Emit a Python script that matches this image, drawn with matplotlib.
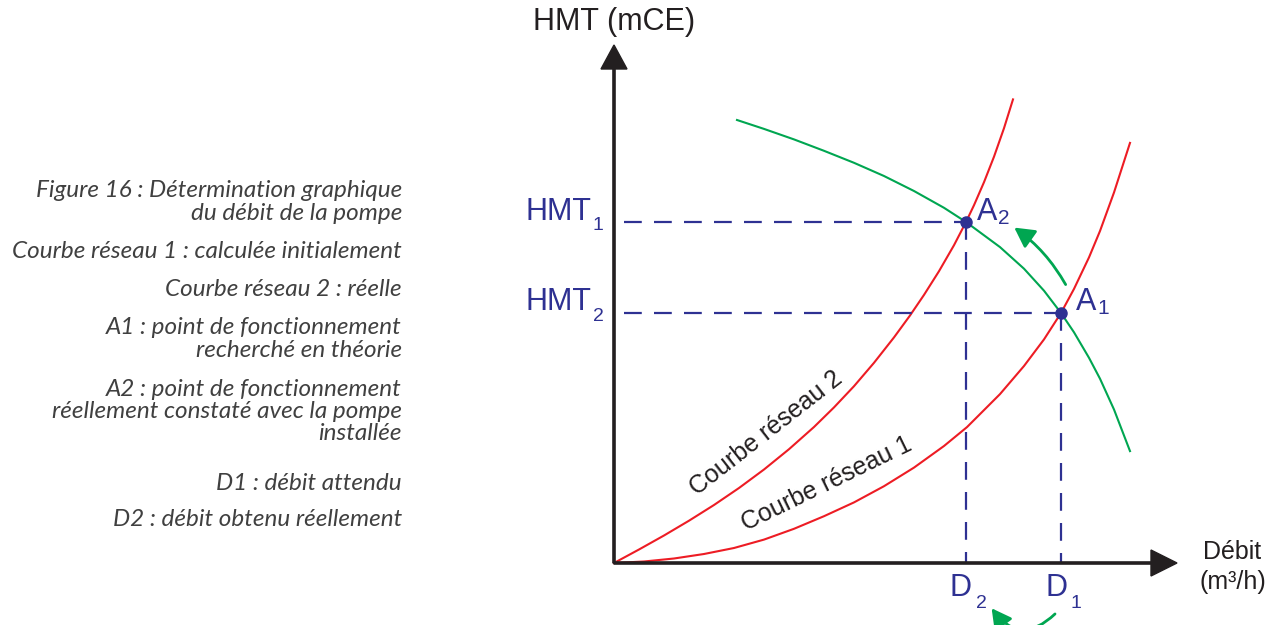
import matplotlib
matplotlib.use("Agg")
import matplotlib.pyplot as plt
from matplotlib.patches import FancyArrowPatch

debit_reseau1 = [0, 3, 6, 9, 12, 15, 18, 21, 24, 27, 30, 33, 35.3, 38.6,
                 41, 43, 44.7, 46, 47.5, 48.6, 50, 51.6]
hmt_reseau1 = [0, 0.15, 0.45, 0.9, 1.5, 2.34, 3.42, 4.68, 6.06, 7.68, 9.54,
               11.7, 13.59, 16.89, 19.7, 22.36, 25.0, 27.41, 30.56, 33.2,
               37.05, 42.01]

debit_reseau2 = [0, 2.5, 5, 7.5, 10, 12.5, 15, 17.5, 20, 22, 24, 26, 28,
                 29.6, 31, 32.5, 34, 35.2, 36, 37, 38, 39, 39.9]
hmt_reseau2 = [0, 1.35, 2.75, 4.23, 5.8, 7.5, 9.35, 11.38, 13.6, 15.56,
               17.68, 20.02, 22.56, 24.75, 26.81, 29.18, 31.78, 34.1, 35.78,
               38.08, 40.63, 43.48, 46.36]

debit_pompe = [12.3, 15, 18, 21, 24, 27, 30, 33, 35.2, 38.6, 41, 43, 44.7,
               46, 47.5, 48.6, 50, 51.6]
hmt_pompe = [44.3, 43.41, 42.36, 41.22, 40.02, 38.7, 37.2, 35.52, 34.1,
             31.59, 29.43, 27.23, 25.0, 23.07, 20.52, 18.43, 15.35, 11.19]

point_A1 = (44.7, 25.0)
point_A2 = (35.2, 34.1)

legend_lines = [
    "Figure 16 : Détermination graphique",
    "du débit de la pompe",
    "Courbe réseau 1 : calculée initialement",
    "Courbe réseau 2 : réelle",
    "A1 : point de fonctionnement",
    "recherché en théorie",
    "A2 : point de fonctionnement",
    "réellement constaté avec la pompe",
    "installée",
    "D1 : débit attendu",
    "D2 : débit obtenu réellement",
]
legend_y = [190, 213, 251, 290, 327, 350, 390, 412, 434, 484, 519]

RED = "#ed1c24"
GREEN = "#00a651"
BLUE = "#2e3192"
BLACK = "#231f20"
W, H = 1278, 625

fig = plt.figure(figsize=(W / 100, H / 100), dpi=100)
ax = fig.add_axes([0, 0, 1, 1])
# 1 unite = 10 px, origine du repere au pixel (614, 563)
ax.set_xlim(-61.4, 66.4)
ax.set_ylim(-6.2, 56.3)
ax.axis("off")


def fx(px):
    return px / W


def fy(py):
    return 1 - py / H


# axes avec fleches
ax.arrow(0, 0, 0, 51.8, width=0.22, head_width=2.6, head_length=2.4,
         length_includes_head=True, color=BLACK, zorder=5)
ax.arrow(0, 0, 56.3, 0, width=0.22, head_width=2.6, head_length=2.6,
         length_includes_head=True, color=BLACK, zorder=5)

# courbes
ax.plot(debit_reseau1, hmt_reseau1, color=RED, lw=1.5, solid_joinstyle="round")
ax.plot(debit_reseau2, hmt_reseau2, color=RED, lw=1.5, solid_joinstyle="round")
ax.plot(debit_pompe, hmt_pompe, color=GREEN, lw=1.5, solid_joinstyle="round")

# traits de rappel
dash = (0, (8.0, 5.5))
for (q, h) in [point_A2, point_A1]:
    ax.plot([1.0, q], [h, h], color=BLUE, lw=1.6, linestyle=dash, zorder=3)
    ax.plot([q, q], [h, 0], color=BLUE, lw=1.6, linestyle=dash, zorder=3)
ax.plot([point_A1[0], point_A2[0]], [point_A1[1], point_A2[1]], "o",
        color=BLUE, ms=8, zorder=6)

font = "Liberation Sans"
fig.text(fx(614), fy(22), "HMT (mCE)", fontsize=22, family=font, color=BLACK,
         ha="center", va="center")
fig.text(fx(1232), fy(552), "Débit", fontsize=18, family=font, color=BLACK,
         ha="center", va="center")
fig.text(fx(1233), fy(582), "(m³/h)", fontsize=18, family=font, color=BLACK,
         ha="center", va="center")

# etiquettes bleues
fig.text(fx(591), fy(212), "HMT", fontsize=22, family=font, color=BLUE,
         ha="right", va="center")
fig.text(fx(593), fy(226), "1", fontsize=14, family=font, color=BLUE,
         ha="left", va="center")
fig.text(fx(591), fy(302), "HMT", fontsize=22, family=font, color=BLUE,
         ha="right", va="center")
fig.text(fx(593), fy(316), "2", fontsize=14, family=font, color=BLUE,
         ha="left", va="center")
fig.text(fx(977), fy(212), "A", fontsize=22, family=font, color=BLUE,
         ha="left", va="center")
fig.text(fx(998), fy(218), "2", fontsize=15, family=font, color=BLUE,
         ha="left", va="center")
fig.text(fx(1076), fy(302), "A", fontsize=22, family=font, color=BLUE,
         ha="left", va="center")
fig.text(fx(1097), fy(308), "1", fontsize=15, family=font, color=BLUE,
         ha="left", va="center")
fig.text(fx(961), fy(588), "D", fontsize=22, family=font, color=BLUE,
         ha="center", va="center")
fig.text(fx(981), fy(604), "2", fontsize=14, family=font, color=BLUE,
         ha="center", va="center")
fig.text(fx(1056), fy(588), "D", fontsize=22, family=font, color=BLUE,
         ha="center", va="center")
fig.text(fx(1076), fy(604), "1", fontsize=14, family=font, color=BLUE,
         ha="center", va="center")

# noms des courbes
fig.text(fx(766), fy(433), "Courbe réseau 2", fontsize=18, family=font,
         color=BLACK, rotation=38, ha="center", va="center",
         rotation_mode="anchor")
fig.text(fx(827), fy(484), "Courbe réseau 1", fontsize=18, family=font,
         color=BLACK, rotation=26, ha="center", va="center",
         rotation_mode="anchor")

# fleches vertes
arr1 = FancyArrowPatch((fx(1067), fy(287)), (fx(1012), fy(226)),
                       transform=fig.transFigure, connectionstyle="arc3,rad=0.12",
                       arrowstyle="-|>,head_length=12,head_width=6.5",
                       color=GREEN, lw=2)
fig.patches.append(arr1)
arr2 = FancyArrowPatch((fx(1057), fy(612)), (fx(990), fy(606)),
                       transform=fig.transFigure, connectionstyle="arc3,rad=-0.6",
                       arrowstyle="-|>,head_length=12,head_width=6.5",
                       color=GREEN, lw=2)
fig.patches.append(arr2)

# texte explicatif a gauche
for line, y in zip(legend_lines, legend_y):
    fig.text(fx(402), fy(y), line, fontsize=17.5, family="Lato",
             style="italic", color="#404040", ha="right", va="center")

fig.savefig("out.png", dpi=100)
